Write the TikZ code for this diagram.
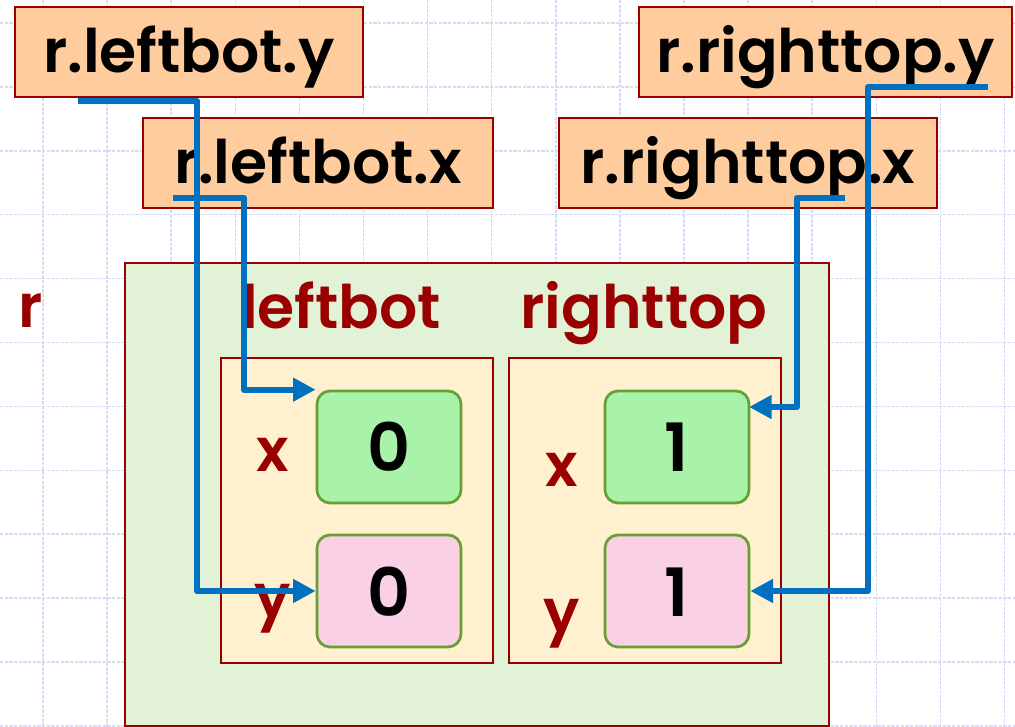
\documentclass[tikz,border=0pt]{standalone}
\usepackage{fontspec}
\setmainfont{Poppins}[BoldFont = * SemiBold]
\usetikzlibrary{arrows.meta}
\definecolor{peach}{HTML}{FFCC9E}
\definecolor{darkred}{HTML}{9A0000}
\definecolor{outergreen}{HTML}{E2F2D6}
\definecolor{inneryellow}{HTML}{FFF0CF}
\definecolor{valgreen}{HTML}{A9F2AA}
\definecolor{valpink}{HTML}{F9D0E4}
\definecolor{valborder}{HTML}{64A032}
\definecolor{arrowblue}{HTML}{0070C0}
\definecolor{gridcol}{HTML}{D5DDF6}
\newcommand{\bigfont}{\fontsize{45}{48}\selectfont\bfseries}
\newcommand{\digfont}{\fontsize{50}{52}\selectfont\bfseries}
\begin{document}
\begin{tikzpicture}[x=0.75pt,y=-0.75pt,
  gridline/.style={draw=gridcol, line width=1.1pt, dash pattern=on 2.5pt off 1pt},
  topbox/.style={draw=darkred, line width=2pt, fill=peach, inner sep=0pt, font=\bigfont, text=black, minimum height=90*0.75pt, text height=36pt, text depth=4.5pt},
  outerbox/.style={draw=darkred, line width=2pt, fill=outergreen, inner sep=0pt},
  innerbox/.style={draw=darkred, line width=2pt, fill=inneryellow, inner sep=0pt, minimum width=272*0.75pt, minimum height=305*0.75pt},
  valbox/.style={draw=valborder, line width=2pt, rounded corners=13*0.75pt, inner sep=0pt, minimum width=144*0.75pt, minimum height=112*0.75pt, font=\digfont, text=black, text height=40pt, text depth=2.5pt},
  lab/.style={inner sep=0pt, anchor=base, font=\bigfont, text=darkred},
  conn/.style={draw=arrowblue, line width=4.5pt, line join=round, -{Triangle[length=17pt, width=17pt]}}
]
\useasboundingbox (0,0) rectangle (1015,727);
\clip (0,0) rectangle (1015,727);
% background grid
\foreach \i in {0,...,15} \draw[gridline] ({43+64.1*\i},0) -- ({43+64.1*\i},727);
\foreach \j in {0,...,11} \draw[gridline] (0,{23+63.9*\j}) -- (1015,{23+63.9*\j});

% top variable boxes
\node[topbox, minimum width=348*0.75pt] (lby) at (189,52) {r.leftbot.y};
\node[topbox, minimum width=350*0.75pt] (lbx) at (318,163) {r.leftbot.x};
\node[topbox, minimum width=373*0.75pt] (rty) at (825.5,52) {r.righttop.y};
\node[topbox, minimum width=378*0.75pt] (rtx) at (748,163) {r.righttop.x};

% structure r
\node[outerbox, minimum width=704*0.75pt, minimum height=463*0.75pt] (r) at (477,494.5) {};
\node[lab] (rlab) at (31,328) {r};
\node[lab] (lblab) at (341,329) {leftbot};
\node[lab] (rtlab) at (644,329) {righttop};
\node[innerbox] (lb) at (357,510.5) {};
\node[innerbox] (rt) at (645,510.5) {};
\node[valbox, fill=valgreen] (lx) at (389,447) {0};
\node[valbox, fill=valpink] (ly) at (389,591) {0};
\node[valbox, fill=valgreen] (rx) at (677,447) {1};
\node[valbox, fill=valpink] (ry) at (677,591) {1};
\node[lab] (lxl) at (273,472) {x};
\node[lab] (lyl) at (273,617) {y};
\node[lab] (rxl) at (562,487) {x};
\node[lab] (ryl) at (562,632) {y};

% connectors
\coordinate (s1) at (78,101);
\coordinate (k1) at (197,101);
\coordinate (s2) at (173,198);
\coordinate (k2) at (244,198);
\coordinate (s3) at (845,198);
\coordinate (k3) at (797,198);
\coordinate (e3) at (749,407);
\coordinate (s4) at (988,87);
\coordinate (k4) at (868,87);
\draw[conn] (s1) -- (k1) |- (ly.west);
\draw[conn] (s2) -- (k2) |- (lx.north west);
\draw[conn] (s3) -- (k3) |- (e3);
\draw[conn] (s4) -- (k4) |- (ry.east);
\end{tikzpicture}
\end{document}
